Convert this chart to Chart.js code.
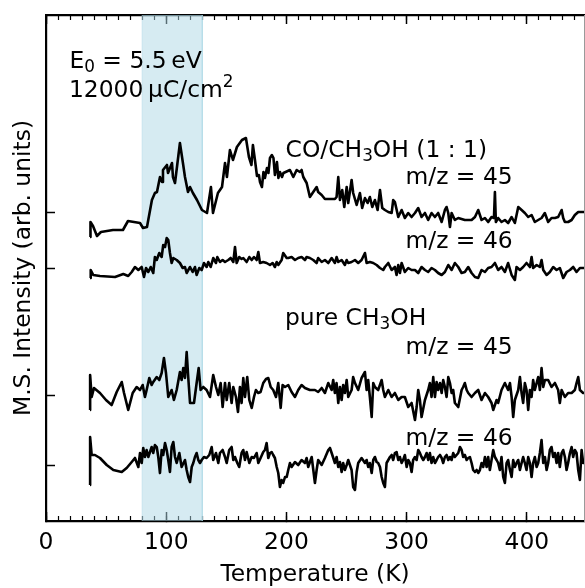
<!DOCTYPE html>
<html><head><meta charset="utf-8">
<script src="https://cdn.jsdelivr.net/npm/chart.js@4/dist/chart.umd.min.js"></script>
<style>html,body{margin:0;padding:0;background:#fff;}canvas{display:block;}</style>
</head><body>
<canvas id="c" width="585" height="588"></canvas>
<script>
// ---------------- data ----------------
const xMajorTicks = [0, 100, 200, 300, 400];
const xRange = [0, 447.5];
const yRange = [0, 506];
const shadedBand = [80, 130];           // K
const seriesBaselines = [309, 253, 126, 56]; // offsets of the stacked traces (arb. units)

// CO/CH3OH (1:1), m/z = 45
const T1 = [36.6,37.0,39.1,42.4,45.7,55.7,64.0,68.2,78.2,80.7,84.0,88.1,90.6,92.3,94.8,96.5,97.3,100.6,101.5,104.8,105.6,107.3,111.4,113.9,115.6,118.1,119.8,122.2,125.6,129.7,133.9,137.2,138.9,143.0,146.4,148.9,150.5,153.0,155.5,158.8,163.0,166.3,168.8,170.9,172.1,173.8,175.5,177.1,178.0,179.6,180.9,182.1,183.8,185.0,186.3,187.9,189.2,190.4,192.1,193.3,194.6,196.3,197.5,202.9,205.7,208.5,211.2,212.6,214.0,216.8,219.5,222.3,225.1,226.4,229.3,232.0,240.3,241.7,243.1,244.5,246.4,248.1,250.1,251.4,254.2,255.5,258.4,261.1,263.0,265.3,267.5,269.4,271.4,273.6,275.8,277.8,279.7,281.9,284.7,287.5,288.8,290.2,293.0,295.8,298.5,301.3,304.1,306.9,309.6,312.4,315.2,317.9,320.7,323.5,326.2,329.1,331.8,333.2,334.6,336.0,337.4,340.1,342.9,348.4,354.0,356.8,359.5,362.3,365.1,367.8,370.6,372.6,373.4,374.2,376.1,378.9,381.7,384.4,387.3,390.0,392.8,395.6,398.3,401.1,403.9,406.6,409.4,412.2,414.9,417.7,420.5,423.3,426.0,428.9,430.2,431.6,434.3,437.2,439.9,442.7,446.8,450];
const I1 = [-25,-10,-14,-24,-20,-18,-18,-9,-11,-16,-15,12,19,20,35,30,42,47,39,49,35,29,69,49,35,20,25,19,12,2,-1,25,-1,19,25,49,35,62,52,65,72,74,55,47,67,52,36,37,30,25,40,34,44,39,54,57,54,37,50,34,40,35,39,42,35,42,40,42,35,29,15,20,25,20,17,13,13,15,35,12,22,5,25,9,32,19,7,19,4,14,9,15,5,12,2,22,4,2,0,-1,12,10,-5,2,-6,-1,-5,-1,4,-5,-1,-8,-1,-5,-1,-10,2,5,-1,-15,-1,-8,-6,-8,-8,-5,2,-8,-6,-10,-5,-6,20,-10,-6,-10,-8,-11,-5,-11,5,2,-1,-5,-3,-10,-8,-6,-1,-10,-6,-6,-5,2,-6,-10,-10,-8,-3,0,0,0];

// CO/CH3OH (1:1), m/z = 46
const T2 = [36.6,37.2,39.3,44.9,57.4,64.3,68.4,71.3,74.0,76.8,79.6,81.5,83.2,85.1,87.1,89.2,90.6,92.1,94.2,96.2,97.5,99.0,100.4,101.7,103.1,104.5,105.9,108.7,111.4,113.7,115.6,117.0,119.8,122.0,123.9,125.3,127.5,129.5,131.4,133.6,135.0,137.0,139.1,141.4,142.5,144.7,146.9,148.9,151.6,153.6,155.8,157.2,158.6,160.7,162.7,164.1,166.9,169.1,171.1,173.0,175.2,176.6,178.0,180.7,183.5,186.3,188.5,190.4,191.9,193.2,196.0,197.3,200.2,201.5,204.3,207.1,209.8,212.6,215.4,216.8,219.5,222.3,225.1,226.4,229.3,232.0,234.8,237.6,240.3,241.7,243.1,245.9,248.6,250.1,251.4,254.2,257.0,259.7,262.5,265.3,266.7,269.4,272.2,275.0,277.8,280.5,281.9,284.7,287.5,290.2,291.6,293.0,294.4,295.8,298.5,301.3,304.1,306.9,309.6,312.4,315.2,317.9,320.7,323.5,326.2,329.1,331.8,334.6,337.4,340.1,342.9,345.7,348.4,351.2,354.0,356.8,359.5,362.3,365.1,367.8,370.6,373.4,376.1,378.9,381.7,384.4,387.3,390.0,391.4,394.2,396.9,399.7,402.5,403.9,405.2,408.1,410.8,412.2,413.6,416.4,419.1,421.9,424.7,427.4,430.2,433.0,435.8,438.5,441.3,444.1,446.8,450];
const I2 = [-10,-2,-7,-8,-9,-6,-8,-4,1,-2,1,-9,0,-4,1,-5,11,8,15,11,23,21,30,28,15,5,10,8,5,0,1,-5,1,-4,1,-7,0,-2,5,1,6,1,10,5,11,6,8,6,8,10,6,21,5,11,9,10,6,11,8,11,8,16,5,6,5,3,5,1,6,3,8,15,10,10,11,8,10,11,8,11,10,8,5,10,6,8,5,10,5,11,6,8,3,8,5,6,8,5,8,15,5,6,5,3,0,-2,1,5,-2,1,-7,3,-5,5,-4,0,-2,-2,-5,1,-2,-4,0,-2,-5,-7,-4,3,-2,5,1,-5,-4,1,-5,-9,-10,-2,-4,0,1,5,-2,1,-4,5,-7,-12,1,-2,1,5,1,11,0,3,1,8,-2,-7,-4,1,-2,0,-10,-4,-2,1,-4,0,0,0];

// pure CH3OH, m/z = 45
const T3 = [36.6,36.7,38.0,39.9,44.9,49.9,54.6,58.8,63.0,64.9,68.4,72.1,75.4,78.2,80.4,82.3,83.7,85.9,87.9,89.2,92.1,94.2,96.2,98.1,99.8,101.7,104.5,106.4,108.7,111.4,112.8,114.2,115.6,117.0,118.3,119.8,123.1,125.3,127.0,128.6,130.8,133.6,136.4,139.1,141.4,143.3,145.3,146.9,148.9,150.3,152.4,154.4,155.8,158.0,159.7,161.3,162.7,164.1,165.5,167.4,169.1,171.1,173.0,174.6,176.5,178.5,180.7,183.0,184.9,186.9,189.0,191.3,193.2,195.2,196.8,198.8,201.5,204.3,207.1,209.8,212.6,215.4,219.5,223.7,226.4,229.3,232.0,234.8,237.6,238.9,240.3,241.7,243.1,244.5,245.9,247.2,248.6,250.1,251.4,254.2,255.5,257.0,259.7,262.5,265.3,266.7,268.0,269.4,270.9,272.2,273.6,276.3,279.2,280.5,281.9,284.7,287.5,290.2,293.0,295.8,298.5,301.3,304.1,306.9,308.3,309.6,311.0,312.4,315.2,317.9,319.3,320.7,322.1,323.5,324.9,326.2,327.7,329.1,330.4,331.8,333.2,334.6,336.0,337.4,338.7,340.1,342.9,345.7,347.0,348.4,349.9,351.2,354.0,356.8,359.5,362.3,365.1,367.8,370.6,372.0,374.8,376.1,378.9,381.7,384.4,385.9,387.3,388.6,390.0,392.8,394.2,395.6,396.9,398.3,399.7,401.1,402.5,403.9,405.2,406.6,408.1,409.4,410.8,412.2,413.6,415.0,417.7,420.5,423.3,426.0,427.4,428.9,431.6,434.3,437.2,439.9,441.3,442.7,444.1,446.8,450];
const I3 = [-15,20,-2,7,2,-5,-10,3,13,2,-15,2,8,5,10,-2,5,17,10,13,18,15,22,37,22,-2,5,-5,5,23,15,27,17,43,18,-8,-8,12,27,5,8,5,-2,20,8,0,12,-12,12,-5,12,-8,8,-2,-17,8,-8,17,-2,18,-5,-13,-2,5,2,3,12,16,17,8,5,-2,12,-13,10,8,10,3,-2,5,10,7,5,5,3,7,2,12,5,15,2,12,-8,8,-5,10,2,15,-2,5,18,12,5,17,23,5,15,-2,-22,12,8,5,15,5,-2,5,-2,2,-5,-2,-2,-12,-8,-25,-12,5,-5,-22,-5,5,12,-2,18,-2,13,5,12,2,15,8,-2,18,12,2,5,-8,-12,5,8,12,5,2,-2,2,5,-5,2,-2,-8,-15,-5,-8,5,12,5,12,-2,-22,-5,5,18,2,-8,12,5,-15,5,-2,15,5,12,18,5,27,8,15,15,8,12,5,-8,5,-2,2,2,5,12,18,5,2,2];

// pure CH3OH, m/z = 46
const T4 = [36.6,36.7,38.0,40.7,44.9,50.5,56.0,63.0,67.1,71.3,74.0,76.8,78.2,79.6,80.9,82.3,83.7,85.1,86.5,87.9,89.2,90.6,92.1,93.4,94.8,96.2,97.5,99.0,100.4,101.7,103.1,104.5,105.9,107.3,108.7,110.9,112.8,115.6,117.0,118.3,119.8,121.2,122.5,123.9,125.3,126.7,128.1,129.5,131.4,133.6,135.8,137.8,139.1,141.4,143.3,144.7,146.9,148.9,150.3,152.4,154.4,155.8,157.2,159.1,160.7,162.7,164.1,165.5,166.9,169.1,171.1,173.0,175.2,176.6,178.5,180.7,182.1,183.5,184.9,186.3,187.7,189.0,190.4,191.9,193.2,194.6,196.0,197.3,198.8,200.2,201.5,202.9,204.3,207.1,209.8,212.6,215.4,216.8,218.1,221.0,223.7,225.1,226.4,229.3,232.0,234.8,236.2,237.6,240.3,241.7,243.1,244.5,245.9,247.2,248.6,250.1,251.4,254.2,255.5,257.0,258.4,259.7,262.5,265.3,266.7,268.0,269.4,270.9,272.2,273.6,275.0,276.3,277.8,279.2,280.5,281.9,283.3,284.7,286.1,287.5,288.8,290.2,291.6,293.0,294.4,295.8,297.1,298.5,300.0,301.3,302.7,304.1,305.4,306.9,308.3,309.6,311.0,312.4,313.8,315.2,316.6,317.9,319.3,320.7,322.1,323.5,324.9,326.2,327.7,329.1,330.4,331.8,333.2,334.6,336.0,337.4,338.7,340.1,342.9,344.3,345.7,347.0,348.4,349.9,351.2,352.6,354.0,355.3,356.8,358.2,359.5,360.9,362.3,363.7,365.1,366.5,367.8,369.2,370.6,372.0,373.4,374.8,376.1,377.5,378.9,380.3,381.7,383.1,384.4,385.9,387.3,388.6,390.0,391.4,392.8,394.2,395.6,396.9,398.3,399.7,401.1,402.5,403.9,405.2,406.6,408.1,409.4,410.8,412.2,413.6,415.0,416.4,417.7,419.1,420.5,421.9,423.3,424.7,426.0,427.4,428.9,430.2,431.6,433.0,434.3,435.8,437.2,438.5,439.9,441.3,442.7,444.1,445.5,446.8,450];
const I4 = [-20,28,10,10,7,0,-5,-7,-3,3,7,-2,12,2,17,8,15,8,13,18,12,20,18,8,-8,15,10,22,15,5,-7,18,23,8,2,12,-2,5,-5,-12,-17,-2,2,8,12,5,2,5,8,7,10,18,5,12,2,12,15,8,2,15,18,5,8,2,-2,12,15,5,13,2,8,7,12,2,7,13,15,22,7,12,13,10,7,-2,-8,-22,-15,-18,-12,-12,-5,2,-2,3,0,5,2,7,-2,8,-18,-5,5,0,7,15,17,12,2,8,-2,3,-7,2,-5,0,5,-5,-22,-25,-7,2,7,2,5,-2,2,-8,5,8,3,2,-2,-12,-18,-22,2,5,8,10,5,12,13,5,8,2,5,10,-2,5,2,-7,5,8,5,15,12,8,5,8,12,5,12,2,8,2,5,8,10,7,2,8,10,5,8,5,12,8,12,18,15,8,10,5,7,8,2,-5,-7,-5,-8,-5,2,-2,8,-2,8,-5,5,15,8,5,2,-5,8,-12,-18,2,5,-5,-12,5,-2,2,5,-5,2,8,2,-5,8,2,-12,2,8,-2,2,12,25,2,8,-5,2,15,18,8,12,2,12,-2,12,15,8,-5,2,12,18,8,15,12,-5,-15,15,2,2];

const traces = [
  {T: T1, I: I1, base: seriesBaselines[0]},
  {T: T2, I: I2, base: seriesBaselines[1]},
  {T: T3, I: I3, base: seriesBaselines[2]},
  {T: T4, I: I4, base: seriesBaselines[3]},
];

// ---------------- chart ----------------
const FONT = '"DejaVu Sans", "Liberation Sans", sans-serif';
const FS = 23.4;
Chart.defaults.font.family = FONT;
Chart.defaults.color = '#000';

const minorTicks = [];
for (let v = 0; v <= 440; v += 10) minorTicks.push(v);

const fixH = h => s => { s.height = h; };
const fixW = w => s => { s.width = w; };
const setTicks = vals => s => { s.ticks = vals.map(v => ({value: v})); };

const labelTexts = [
  [['E'], ['0', 'sub'], [' = 5.5\u2009eV']],
  [['12000\u2009\u03bcC/cm'], ['2', 'sup']],
  [['CO/CH'], ['3', 'sub'], ['OH (1 : 1)']],
  [['m/z = 45']],
  [['m/z = 46']],
  [['pure CH'], ['3', 'sub'], ['OH']],
  [['m/z = 45']],
  [['m/z = 46']],
];
const labelAnchors = [[19.5,453],[19.1,424.3],[199.3,364],[299,337],[299,273],[198.8,196],[299,167],[299,76]];

const annotationPlugin = {
  id: 'annot',
  afterDraw(chart) {
    const ctx = chart.ctx;
    const xs = chart.scales.x, ys = chart.scales.y;
    ctx.save();
    ctx.fillStyle = '#000';
    ctx.textBaseline = 'alphabetic';
    ctx.textAlign = 'left';
    labelTexts.forEach((parts, i) => {
      let cx = xs.getPixelForValue(labelAnchors[i][0]);
      const by = ys.getPixelForValue(labelAnchors[i][1]);
      parts.forEach(([txt, kind]) => {
        let size = FS, dy = 0;
        if (kind === 'sub') { size = FS * 0.72; dy = FS * 0.15; }
        if (kind === 'sup') { size = FS * 0.72; dy = -FS * 0.42; }
        ctx.font = size + 'px ' + FONT;
        ctx.fillText(txt, cx, by + dy);
        cx += ctx.measureText(txt).width;
      });
    });
    ctx.restore();
  }
};

const bandData = [
  {x: shadedBand[0], y: yRange[0]}, {x: shadedBand[0], y: yRange[1]},
  {x: shadedBand[1], y: yRange[1]}, {x: shadedBand[1], y: yRange[0]}
];

const datasets = traces.map(s => ({
  type: 'line',
  data: s.T.slice(0, Math.min(s.T.length, s.I.length)).map((t, i) => ({x: t, y: s.base + s.I[i]})),
  borderColor: '#000', borderWidth: 2.6, pointRadius: 0, fill: false, tension: 0,
  borderJoinStyle: 'round', order: 0, xAxisID: 'x', yAxisID: 'y'
}));
datasets.push({
  type: 'line', data: bandData, fill: 'start',
  backgroundColor: 'rgba(173,216,230,0.5)', borderColor: 'rgba(173,216,230,0.6)',
  borderWidth: 1, pointRadius: 0, tension: 0, order: 10, xAxisID: 'x', yAxisID: 'y'
});

const xCommon = {type: 'linear', min: xRange[0], max: xRange[1]};

new Chart(document.getElementById('c'), {
  type: 'line',
  data: {datasets},
  options: {
    responsive: false, animation: false, devicePixelRatio: 1, events: [],
    layout: {padding: {left: 0, right: 1, top: 15, bottom: 0}},
    plugins: {legend: {display: false}, tooltip: {enabled: false}},
    scales: {
      x: Object.assign({}, xCommon, {
        position: 'bottom', weight: 1,
        afterBuildTicks: setTicks(xMajorTicks), afterFit: fixH(67),
        ticks: {display: true, color: '#000', font: {family: FONT, size: FS}, padding: 17,
                autoSkip: false, maxRotation: 0, callback: v => String(v)},
        grid: {drawOnChartArea: false, drawTicks: true, tickLength: -9, tickColor: '#000', tickWidth: 1.5},
        border: {display: true, color: '#000', width: 2.2},
        title: {display: true, text: 'Temperature (K)', color: '#000',
                font: {family: FONT, size: FS, lineHeight: 1.1}, padding: 0}
      }),
      xMinor: Object.assign({}, xCommon, {
        position: 'bottom', weight: 0,
        afterBuildTicks: setTicks(minorTicks), afterFit: fixH(0),
        ticks: {display: false},
        grid: {drawOnChartArea: false, drawTicks: true, tickLength: -5, tickColor: '#000', tickWidth: 1.2},
        border: {display: false}
      }),
      xTop: Object.assign({}, xCommon, {
        position: 'top', weight: 1,
        afterBuildTicks: setTicks(xMajorTicks), afterFit: fixH(0),
        ticks: {display: false},
        grid: {drawOnChartArea: false, drawTicks: true, tickLength: -9, tickColor: '#000', tickWidth: 1.5},
        border: {display: true, color: '#000', width: 2.2}
      }),
      xTopMinor: Object.assign({}, xCommon, {
        position: 'top', weight: 0,
        afterBuildTicks: setTicks(minorTicks), afterFit: fixH(0),
        ticks: {display: false},
        grid: {drawOnChartArea: false, drawTicks: true, tickLength: -5, tickColor: '#000', tickWidth: 1.2},
        border: {display: false}
      }),
      y: {
        type: 'linear', position: 'left', min: yRange[0], max: yRange[1],
        afterBuildTicks: setTicks(seriesBaselines), afterFit: fixW(46),
        ticks: {display: false},
        grid: {drawOnChartArea: false, drawTicks: true, tickLength: -9, tickColor: '#000', tickWidth: 1.5},
        border: {display: true, color: '#000', width: 2.2},
        title: {display: true, text: 'M.S. Intensity (arb. units)', color: '#000',
                font: {family: FONT, size: FS}, padding: {top: 10, bottom: 0}}
      },
      yRight: {
        type: 'linear', position: 'right', min: yRange[0], max: yRange[1],
        afterFit: fixW(0),
        ticks: {display: false},
        grid: {drawOnChartArea: false, drawTicks: false},
        border: {display: true, color: '#9a9a9a', width: 1}
      }
    }
  },
  plugins: [annotationPlugin]
});
</script>
</body></html>
